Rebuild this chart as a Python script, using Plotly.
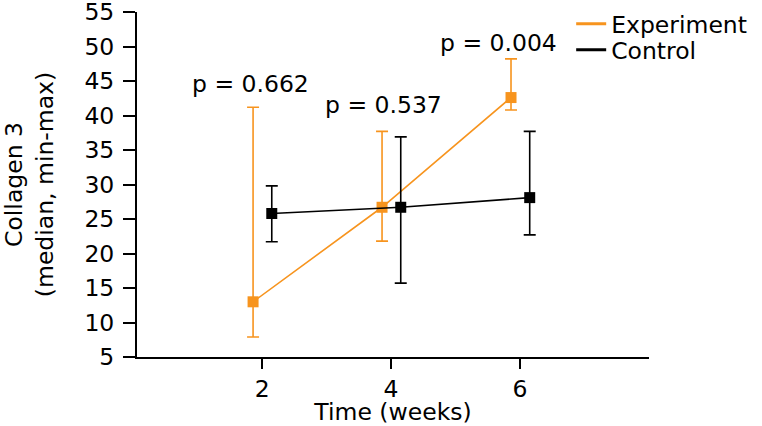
import plotly.graph_objects as go

# ---- data ----
weeks = [2, 4, 6]
exp_median = [13.0, 26.7, 42.6]
exp_min = [7.9, 21.8, 40.8]
exp_max = [41.2, 37.7, 48.2]
ctrl_median = [25.8, 26.7, 28.1]
ctrl_min = [21.7, 15.7, 22.7]
ctrl_max = [29.8, 36.9, 37.7]
p_labels = ["p = 0.662", "p = 0.537", "p = 0.004"]
series_names = ["Experiment", "Control"]
x_ticks = [2, 4, 6]
y_ticks = [5, 10, 15, 20, 25, 30, 35, 40, 45, 50, 55]

# ---- style ----
ORANGE = "#F7941E"
BLACK = "#000000"
FONT = "DejaVu Sans"
FS = 23.5
EXP_OFFSET = -0.14
CTRL_OFFSET = 0.15

exp_x = [w + EXP_OFFSET for w in weeks]
ctrl_x = [w + CTRL_OFFSET for w in weeks]

fig = go.Figure()


def add_series(x, med, lo, hi, color):
    fig.add_trace(go.Scatter(
        x=x, y=med, mode="lines+markers", showlegend=False,
        line=dict(color=color, width=1.6),
        marker=dict(symbol="square", size=11, color=color),
        error_y=dict(type="data", symmetric=False,
                     array=[h - m for h, m in zip(hi, med)],
                     arrayminus=[m - l for m, l in zip(med, lo)],
                     color=color, thickness=1.6, width=6),
    ))


add_series(exp_x, exp_median, exp_min, exp_max, ORANGE)
add_series(ctrl_x, ctrl_median, ctrl_min, ctrl_max, BLACK)

# legend-only line entries (one legend each, to control spacing)
for name, col, lg in zip(series_names, [ORANGE, BLACK], ["legend", "legend2"]):
    fig.add_trace(go.Scatter(x=[None], y=[None], mode="lines", name=name,
                             legend=lg, line=dict(color=col, width=3)))

# p-value annotations
p_pos = [(1.82, 44.5), (3.88, 41.5), (5.66, 50.5)]
for txt, (ax, ay) in zip(p_labels, p_pos):
    fig.add_annotation(x=ax, y=ay, text=txt, showarrow=False,
                       xref="x", yref="y", font=dict(family=FONT, size=FS, color=BLACK))

leg_common = dict(x=0.848, xanchor="left", yanchor="middle",
                  bgcolor="rgba(0,0,0,0)", font=dict(family=FONT, size=FS))

fig.update_layout(
    width=762, height=426,
    margin=dict(l=137, r=113, t=12, b=69, autoexpand=False),
    paper_bgcolor="white", plot_bgcolor="white",
    font=dict(family=FONT, size=FS, color=BLACK),
    legend=dict(y=0.965, **leg_common),
    legend2=dict(y=0.890, **leg_common),
    xaxis=dict(range=[0.06, 8.0], tickvals=x_ticks, showline=True,
               linecolor=BLACK, linewidth=2, ticks="outside", ticklen=10,
               tickwidth=2, tickcolor=BLACK, showgrid=False, zeroline=False,
               automargin=False, ticklabeloverflow="allow",
               title=dict(text="Time (weeks)", standoff=0,
                          font=dict(family=FONT, size=FS))),
    yaxis=dict(range=[5, 55], tickvals=y_ticks, showline=True,
               linecolor=BLACK, linewidth=2, ticks="outside", ticklen=12,
               tickwidth=2, tickcolor=BLACK, showgrid=False, zeroline=False,
               ticklabelstandoff=4, automargin=False, ticklabeloverflow="allow",
               title=dict(text="Collagen 3<br>(median, min-max)", standoff=31,
                          font=dict(family=FONT, size=FS))),
)

fig.write_html("out.html", config={"displayModeBar": False},
               post_script="document.body.style.margin='0px';")
